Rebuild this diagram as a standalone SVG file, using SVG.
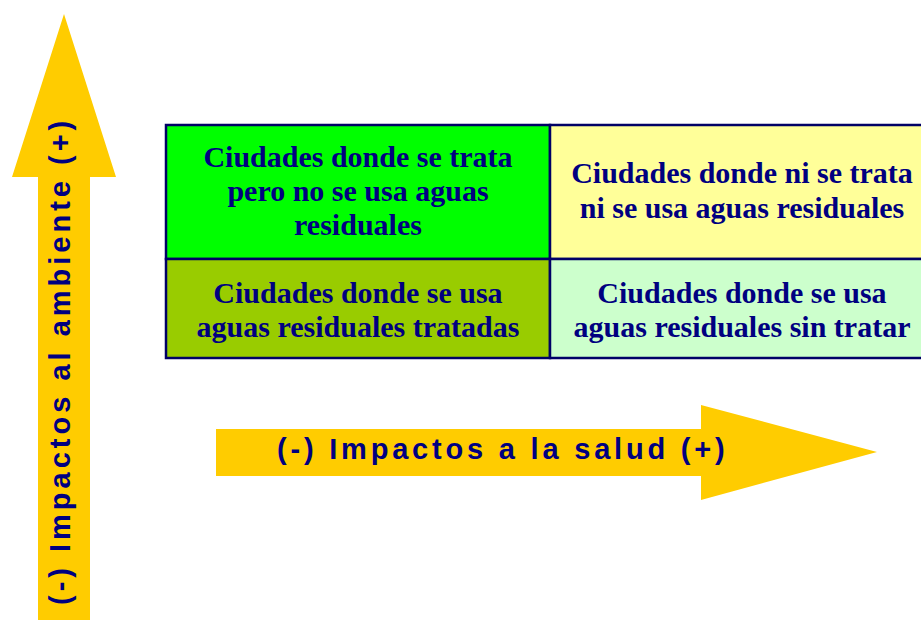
<svg xmlns="http://www.w3.org/2000/svg" width="921" height="620" viewBox="0 0 921 620">
<style>
.arrow{fill:#FFCC00}
.lbl{font-family:"Liberation Sans",Arial,sans-serif;font-weight:bold;font-size:29px;fill:#000080;letter-spacing:3.8px}
.cell{stroke:#000066;stroke-width:2.5}
.ct{font-family:"Liberation Serif","Times New Roman",serif;font-weight:bold;font-size:30px;fill:#000080;text-anchor:middle}
</style>
<rect width="921" height="620" fill="#FFFFFF"/>
<g id="axis-ambiente">
<polygon class="arrow" points="38,620 38,177 12,177 64,14 116,177 90,177 90,620"/>
<text class="lbl" style="letter-spacing:4px" transform="translate(70,605) rotate(-90)">(-) Impactos al ambiente (+)</text>
</g>
<g id="axis-salud">
<polygon class="arrow" points="216,429 701,429 701,405 877,452 701,500 701,476 216,476"/>
<text class="lbl" x="277" y="459">(-) Impactos a la salud (+)</text>
</g>
<g id="cell-tl">
<rect class="cell" x="166" y="125" width="384" height="134" fill="#00FF00"/>
<text class="ct"><tspan x="358" y="167">Ciudades donde se trata</tspan><tspan x="358" y="201">pero no se usa aguas</tspan><tspan x="358" y="235">residuales</tspan></text>
</g>
<g id="cell-tr">
<rect class="cell" x="550" y="125" width="380" height="134" fill="#FFFF99"/>
<text class="ct"><tspan x="742" y="183">Ciudades donde ni se trata</tspan><tspan x="742" y="218">ni se usa aguas residuales</tspan></text>
</g>
<g id="cell-bl">
<rect class="cell" x="166" y="259" width="384" height="99" fill="#99CC00"/>
<text class="ct"><tspan x="358" y="303">Ciudades donde se usa</tspan><tspan x="358" y="337">aguas residuales tratadas</tspan></text>
</g>
<g id="cell-br">
<rect class="cell" x="550" y="259" width="380" height="99" fill="#CCFFCC"/>
<text class="ct"><tspan x="742" y="303">Ciudades donde se usa</tspan><tspan x="742" y="337">aguas residuales sin tratar</tspan></text>
</g>
<g id="connectors"></g>
</svg>
